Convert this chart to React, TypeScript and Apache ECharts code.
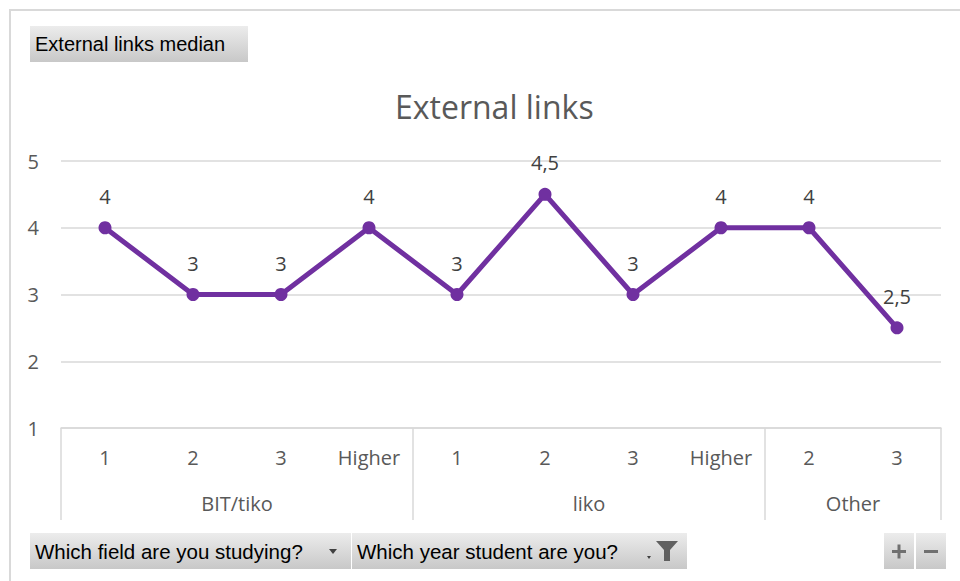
import React, { useEffect, useRef } from 'react';
import * as echarts from 'echarts';

// ---- data ----
const categories = ['1', '2', '3', 'Higher', '1', '2', '3', 'Higher', '2', '3'];
const groups = ['BIT/tiko', 'liko', 'Other'];
const groupSizes = [4, 4, 2];
const values = [4, 3, 3, 4, 3, 4.5, 3, 4, 4, 2.5];
const yTicks = [1, 2, 3, 4, 5];
const chartTitle = 'External links';
const seriesName = 'External links median';
const filterFields = ['Which field are you studying?', 'Which year student are you?'];

// group boundaries & centres derived from sizes
const boundaries: number[] = [0];
groupSizes.forEach((s) => boundaries.push(boundaries[boundaries.length - 1] + s));
const centres: number[] = groupSizes.map((s, i) => boundaries[i] + s / 2);

const FONT = '"Open Sans", "Noto Sans", sans-serif';
const BTN_FONT = '"Liberation Sans", sans-serif';
const GRID = '#d9d9d9';
const TXT = '#595959';

const btnFill = new echarts.graphic.LinearGradient(0, 0, 0, 1, [
  { offset: 0, color: '#ececec' },
  { offset: 1, color: '#c8c8c8' },
]);

export default function App() {
  const ref = useRef<HTMLDivElement>(null);
  useEffect(() => {
    if (!ref.current) return;
    const chart = echarts.init(ref.current, undefined, { renderer: 'svg' });
    chart.setOption({
      animation: false,
      backgroundColor: '#ffffff',
      title: {
        text: chartTitle,
        left: 390,
        top: 85,
        textStyle: { fontFamily: FONT, fontSize: 32, fontWeight: 'normal', color: TXT },
      },
      grid: { left: 61, right: 19, top: 161, bottom: 153 },
      xAxis: [
        {
          type: 'category',
          data: categories,
          boundaryGap: true,
          axisLine: { show: true, lineStyle: { color: GRID, width: 1.5 } },
          axisTick: { show: false },
          axisLabel: { margin: 19, fontFamily: FONT, fontSize: 20, color: TXT },
        },
        {
          type: 'value',
          min: 0,
          max: categories.length,
          position: 'bottom',
          axisLine: { show: false },
          splitLine: { show: false },
          axisTick: {
            show: true,
            customValues: boundaries,
            length: 92,
            lineStyle: { color: GRID, width: 1.5 },
          },
          axisLabel: {
            show: true,
            customValues: centres,
            margin: 65,
            fontFamily: FONT,
            fontSize: 20,
            color: TXT,
            formatter: (v: number) => {
              const i = centres.indexOf(v);
              return i >= 0 ? groups[i] : '';
            },
          },
        },
      ],
      yAxis: {
        type: 'value',
        min: yTicks[0],
        max: yTicks[yTicks.length - 1],
        interval: 1,
        axisLine: { show: false },
        axisTick: { show: false },
        splitLine: { show: true, lineStyle: { color: GRID, width: 1.5 } },
        axisLabel: { margin: 22, fontFamily: FONT, fontSize: 20, color: TXT },
      },
      series: [
        {
          name: seriesName,
          type: 'line',
          xAxisIndex: 0,
          data: values,
          symbol: 'circle',
          symbolSize: 13,
          lineStyle: { color: '#7030a0', width: 5 },
          itemStyle: { color: '#7030a0' },
          label: {
            show: true,
            position: 'top',
            distance: 15,
            fontFamily: FONT,
            fontSize: 20,
            color: '#404040',
            formatter: (p: any) => String(p.value).replace('.', ','),
          },
        },
      ],
      graphic: [
        {
          type: 'rect',
          silent: true,
          shape: { x: 10, y: 10, width: 1000, height: 1000 },
          style: { fill: 'none', stroke: GRID, lineWidth: 2 },
        },
        // series name button
        {
          type: 'group',
          children: [
            { type: 'rect', shape: { x: 30, y: 26, width: 218, height: 36 }, style: { fill: btnFill } },
            {
              type: 'text',
              x: 35,
              y: 44,
              style: { text: seriesName, fontFamily: BTN_FONT, fontSize: 20, fill: '#000', verticalAlign: 'middle' },
            },
          ],
        },
        // filter buttons
        {
          type: 'group',
          children: [
            { type: 'rect', shape: { x: 30, y: 533, width: 321, height: 36 }, style: { fill: btnFill } },
            { type: 'rect', shape: { x: 352, y: 533, width: 335, height: 36 }, style: { fill: btnFill } },
            {
              type: 'text',
              x: 35,
              y: 551,
              style: { text: filterFields[0], fontFamily: BTN_FONT, fontSize: 20.5, fill: '#000', verticalAlign: 'middle' },
            },
            {
              type: 'polygon',
              shape: { points: [[329, 549], [337, 549], [333, 554]] },
              style: { fill: '#404040' },
            },
            {
              type: 'text',
              x: 357,
              y: 551,
              style: { text: filterFields[1], fontFamily: BTN_FONT, fontSize: 20.5, fill: '#000', verticalAlign: 'middle' },
            },
            {
              type: 'polygon',
              shape: { points: [[656, 541], [678, 541], [670, 550], [670, 561], [664, 561], [664, 550]] },
              style: { fill: '#606060' },
            },
            {
              type: 'polygon',
              shape: { points: [[647, 556], [651, 556], [649, 559]] },
              style: { fill: '#404040' },
            },
          ],
        },
        // +/- buttons
        {
          type: 'group',
          children: [
            { type: 'rect', shape: { x: 884, y: 533, width: 30, height: 36 }, style: { fill: btnFill } },
            { type: 'rect', shape: { x: 916, y: 533, width: 30, height: 36 }, style: { fill: btnFill } },
            { type: 'rect', shape: { x: 892, y: 550, width: 14, height: 3 }, style: { fill: '#707070' } },
            { type: 'rect', shape: { x: 897.5, y: 544.5, width: 3, height: 14 }, style: { fill: '#707070' } },
            { type: 'rect', shape: { x: 924, y: 550, width: 14, height: 3 }, style: { fill: '#707070' } },
          ],
        },
      ],
    });
    return () => chart.dispose();
  }, []);
  return (
    <div
      ref={ref}
      style={{ position: 'fixed', left: 0, top: 0, width: 960, height: 581, background: '#fff' }}
    />
  );
}
